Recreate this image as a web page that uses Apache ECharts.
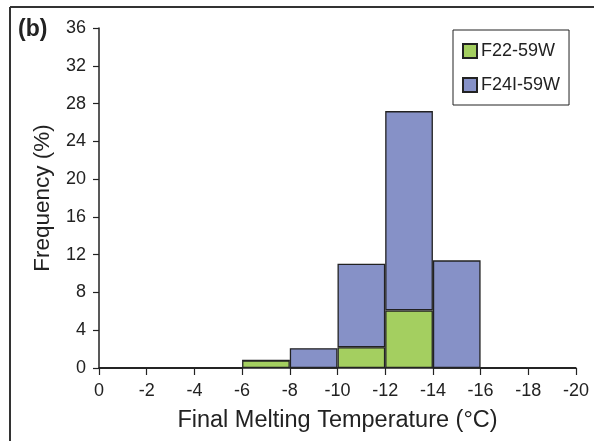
<!DOCTYPE html>
<html>
<head>
<meta charset="utf-8">
<script src="https://cdn.jsdelivr.net/npm/echarts@6/dist/echarts.min.js"></script>
<style>
html,body{margin:0;padding:0;background:#fff;}
#c{width:594px;height:441px;}
</style>
</head>
<body>
<div id="c"></div>
<script>
var bins = ['0 to -2','-2 to -4','-4 to -6','-6 to -8','-8 to -10','-10 to -12','-12 to -14','-14 to -16','-16 to -18','-18 to -20'];
var f22 = [0, 0, 0, 0.8, 0, 2.2, 6.1, 0, 0, 0];
var f24 = [0, 0, 0, 0, 2.1, 8.85, 21.1, 11.4, 0, 0];
var seriesNames = ['F22-59W', 'F24I-59W'];

var FONT = '"Liberation Sans", Arial, Helvetica, sans-serif';
var chart = echarts.init(document.getElementById('c'), null, {renderer: 'canvas'});
chart.setOption({
  animation: false,
  backgroundColor: '#fff',
  grid: {left: 99, right: 18, top: 28, bottom: 73, containLabel: false},
  legend: {
    orient: 'vertical', left: 453, top: 30,
    padding: [12, 9, 11, 9],
    borderColor: '#222', borderWidth: 1,
    icon: 'rect',
    itemWidth: 14, itemHeight: 14, itemGap: 16,
    textStyle: {fontFamily: FONT, fontSize: 18, color: '#222', padding: [0, 0, 0, -1]},
    data: seriesNames
  },
  xAxis: [
    {type: 'category', data: bins, show: false, boundaryGap: true},
    {type: 'value', min: -20, max: 0, interval: 2, inverse: true, position: 'bottom',
     name: 'Final Melting Temperature (°C)', nameLocation: 'middle', nameGap: 41,
     nameTextStyle: {fontFamily: FONT, fontSize: 23.5, color: '#222'},
     axisLine: {show: true, lineStyle: {color: '#222', width: 1.5}},
     axisTick: {show: true, inside: false, length: 7, lineStyle: {color: '#222', width: 1.2}},
     axisLabel: {fontFamily: FONT, fontSize: 18, color: '#222', margin: 14},
     splitLine: {show: false}}
  ],
  yAxis: {
    type: 'value', min: 0, max: 36, interval: 4,
    name: 'Frequency (%)', nameLocation: 'middle', nameGap: 45,
    nameTextStyle: {fontFamily: FONT, fontSize: 22.5, color: '#222'},
    axisLine: {show: true, lineStyle: {color: '#222', width: 1.5}},
    axisTick: {show: true, inside: false, length: 6, lineStyle: {color: '#222', width: 1.2}},
    axisLabel: {fontFamily: FONT, fontSize: 18, color: '#222', margin: 13},
    splitLine: {show: false}
  },
  series: [
    {name: seriesNames[0], type: 'bar', stack: 'a', xAxisIndex: 0, data: f22,
     barCategoryGap: '0%', barWidth: '100%',
     itemStyle: {color: '#a4cf60', borderColor: '#222', borderWidth: 1.3}},
    {name: seriesNames[1], type: 'bar', stack: 'a', xAxisIndex: 0, data: f24,
     barCategoryGap: '0%', barWidth: '100%',
     itemStyle: {color: '#8691c7', borderColor: '#222', borderWidth: 1.3}}
  ],
  graphic: [
    {type: 'line', shape: {x1: 10, y1: 7, x2: 594, y2: 7}, style: {stroke: '#333', lineWidth: 2}},
    {type: 'line', shape: {x1: 10, y1: 7, x2: 10, y2: 441}, style: {stroke: '#333', lineWidth: 2}},
    {type: 'text', left: 18, top: 18, style: {text: '(b)', font: 'bold 23px ' + FONT, fill: '#222'}}
  ]
});
</script>
</body>
</html>
